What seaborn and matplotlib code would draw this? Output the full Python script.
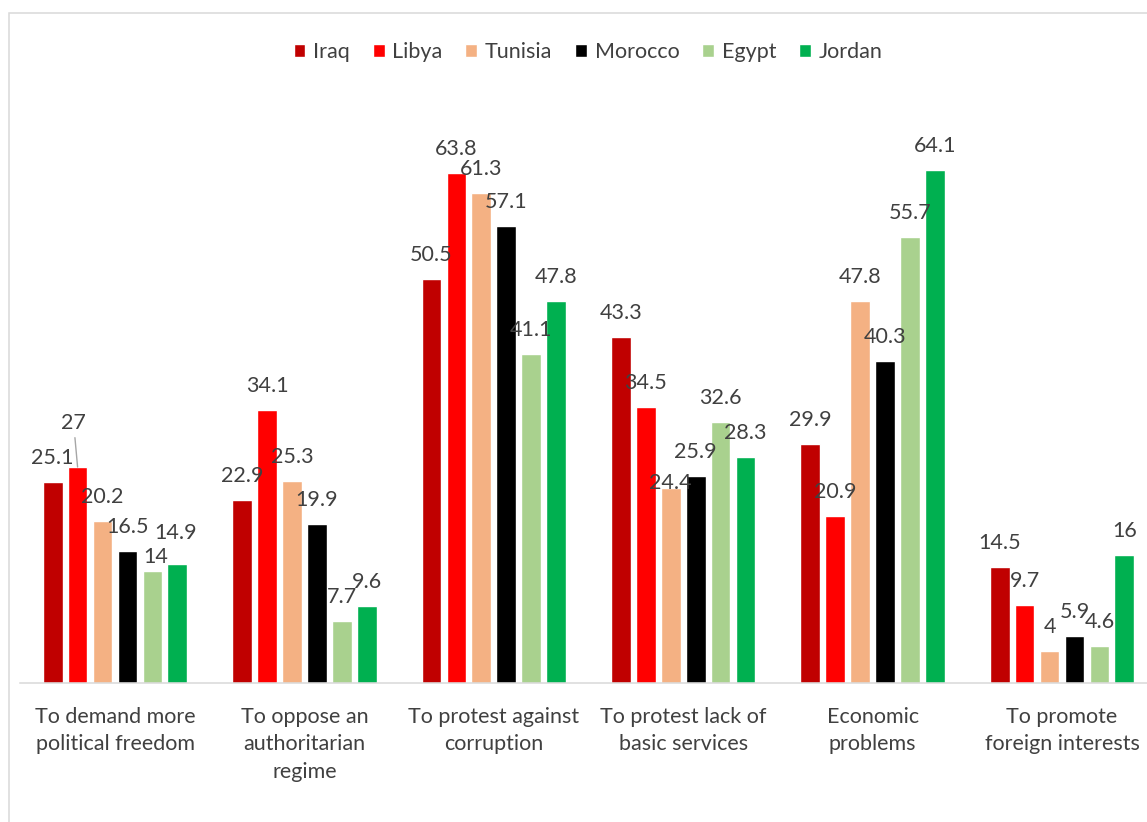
import matplotlib
matplotlib.use("Agg")
import matplotlib.pyplot as plt
from matplotlib.patches import Rectangle
import seaborn as sns
import pandas as pd

# ---- data ----
reasons = [
    "To demand more\npolitical freedom",
    "To oppose an\nauthoritarian\nregime",
    "To protest against\ncorruption",
    "To protest lack of\nbasic services",
    "Economic\nproblems",
    "To promote\nforeign interests",
]
countries = ["Iraq", "Libya", "Tunisia", "Morocco", "Egypt", "Jordan"]
iraq = [25.1, 22.9, 50.5, 43.3, 29.9, 14.5]
libya = [27, 34.1, 63.8, 34.5, 20.9, 9.7]
tunisia = [20.2, 25.3, 61.3, 24.4, 47.8, 4]
morocco = [16.5, 19.9, 57.1, 25.9, 40.3, 5.9]
egypt = [14, 7.7, 41.1, 32.6, 55.7, 4.6]
jordan = [14.9, 9.6, 47.8, 28.3, 64.1, 16]

series = [iraq, libya, tunisia, morocco, egypt, jordan]
colors = ["#C00000", "#FF0000", "#F4B183", "#000000", "#A9D18E", "#00B050"]

rows = []
for c, vals in zip(countries, series):
    for r, v in zip(reasons, vals):
        rows.append({"reason": r, "country": c, "value": v})
df = pd.DataFrame(rows)

# ---- style ----
sns.set_style("white")
plt.rcParams["font.family"] = ["Lato", "DejaVu Sans"]
TXT = "#404040"
FS = 15.5

fig = plt.figure(figsize=(11.47, 8.22), dpi=100)
W, H = 1147, 822
ax = fig.add_axes([20.3 / W, (H - 683) / H, 1136.4 / W, 560 / H])

sns.barplot(data=df, x="reason", y="value", hue="country", order=reasons,
            hue_order=countries, palette=colors, saturation=1, width=0.79,
            gap=0.21, errorbar=None, ax=ax)
ax.set_ylim(0, 70)
ax.set_xlim(-0.5, len(reasons) - 0.5)

# value labels (nudges in pixels, up is negative)
nudge = {("Libya", 0): (-4, -20), ("Egypt", 0): (3, 10), ("Jordan", 0): (-2, -7),
         ("Tunisia", 3): (0, 19)}
px = 72 / 100
for ci, cont in enumerate(ax.containers):
    cname = countries[ci]
    for ri, bar in enumerate(cont):
        v = series[ci][ri]
        x = bar.get_x() + bar.get_width() / 2
        h = bar.get_height()
        dx, dy = nudge.get((cname, ri), (0, 0))
        kw = {}
        if (cname, ri) == ("Libya", 0):
            kw["arrowprops"] = dict(arrowstyle="-", color="#A6A6A6", lw=1,
                                    shrinkA=1, shrinkB=0)
        ax.annotate(f"{v:g}", xy=(x, h), xytext=(dx * px, (24 - dy) * px),
                    textcoords="offset points", ha="center", va="center",
                    fontsize=FS, color=TXT, **kw)

# axes cosmetics
for s in ["top", "right", "left"]:
    ax.spines[s].set_visible(False)
ax.spines["bottom"].set_color("#D9D9D9")
ax.spines["bottom"].set_linewidth(1.1)
ax.set_yticks([])
ax.set_xlabel("")
ax.set_ylabel("")
ax.tick_params(axis="x", length=0, pad=17, labelsize=FS, labelcolor=TXT)
for t in ax.get_xticklabels():
    t.set_linespacing(1.48)

# legend
handles, labels = ax.get_legend_handles_labels()
ax.get_legend().remove()
fig.legend(handles, labels, loc="center", bbox_to_anchor=(588 / W, 1 - 52 / H),
           ncol=6, frameon=False, fontsize=FS, labelcolor=TXT,
           handlelength=0.55, handleheight=0.55, handletextpad=0.35,
           columnspacing=1.07)

# chart border
fig.patches.append(Rectangle((9 / W, -0.1), 1.2, 1.1 - 13 / H,
                             transform=fig.transFigure, fill=False,
                             edgecolor="#D9D9D9", lw=1.1))

fig.savefig("out.png", dpi=100)
